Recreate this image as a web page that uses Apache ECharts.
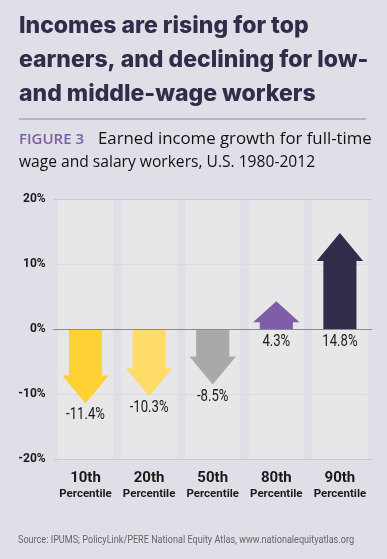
<!DOCTYPE html>
<html>
<head>
<meta charset="utf-8">
<script src="https://cdn.jsdelivr.net/npm/echarts@6/dist/echarts.min.js"></script>
<style>
html,body{margin:0;padding:0;background:#dfdfe7;}
#chart{width:387px;height:559px;}
</style>
</head>
<body>
<div id="chart"></div>
<script>
const categories = ['10th', '20th', '50th', '80th', '90th'];
const growth = [-11.4, -10.3, -8.5, 4.3, 14.8];
const arrowColors = ['#fed235', '#ffdc69', '#a9a9a9', '#7e5ea8', '#2f2d49'];
const yTicks = [-20, -10, 0, 10, 20];

const narrow = "Roboto, 'Noto Sans', sans-serif";
const subFont = "'Open Sans', sans-serif";
const yMin = yTicks[0], yMax = yTicks[yTicks.length - 1];

const chart = echarts.init(document.getElementById('chart'), null, {renderer: 'canvas'});

const option = {
  backgroundColor: '#dfdfe7',
  animation: false,
  graphic: [
    {type: 'text', left: 19, top: 9, style: {
      text: 'Incomes are rising for top\nearners, and declining for low-\nand middle-wage workers',
      font: "800 23px Inter, 'Noto Sans', sans-serif", fill: '#2f2d4a', lineHeight: 34}},
    {type: 'line', shape: {x1: 19, y1: 119, x2: 366, y2: 119}, style: {stroke: '#8c8c94', lineWidth: 1}},
    {type: 'text', left: 19, top: 128, style: {
      text: 'FIGURE 3', font: "600 15px " + subFont, fill: '#7b5ea7', lineHeight: 23}},
    {type: 'text', x: 98, y: 128, scaleX: 1.05, style: {
      text: 'Earned income growth for full-time', font: "16px " + subFont, fill: '#111', lineHeight: 23}},
    {type: 'text', x: 19, y: 151, scaleX: 0.975, style: {
      text: 'wage and salary workers, U.S. 1980-2012', font: "16px " + subFont, fill: '#111', lineHeight: 23}},
    {type: 'text', x: 18, y: 535, scaleX: 0.91, style: {
      text: 'Source: IPUMS; PolicyLink/PERE National Equity Atlas, www.nationalequityatlas.org',
      font: "10px " + narrow, fill: '#666'}}
  ],
  grid: {left: 53.7, right: 15.3, top: 199.3, bottom: 99.7},
  xAxis: {
    type: 'category', data: categories, z: 4,
    axisLine: {onZero: true, lineStyle: {color: '#8a8a8a', width: 1}},
    axisTick: {show: false},
    axisLabel: {
      margin: 10, interval: 0,
      formatter: v => '{a|' + v + '}\n{b|Percentile}',
      rich: {
        a: {fontFamily: narrow, fontSize: 15, fontWeight: 'bold', color: '#1a1a1a', lineHeight: 17},
        b: {fontFamily: narrow, fontSize: 11.5, fontWeight: 'bold', color: '#1a1a1a', lineHeight: 15}
      }
    }
  },
  yAxis: {
    type: 'value', min: yMin, max: yMax, interval: 10, z: 2,
    axisLine: {show: false}, axisTick: {show: false},
    axisLabel: {margin: 8, formatter: v => v + '%', fontFamily: narrow, fontSize: 12, fontWeight: 'bold', color: '#1a1a1a'},
    splitLine: {lineStyle: {color: ['#c9c9cf', '#dadadf', '#8a8a8a', '#dadadf', '#c9c9cf'], width: 1}}
  },
  series: [
    {
      type: 'custom', z: 1, silent: true,
      data: categories.map((c, i) => [i]),
      renderItem: (params, api) => {
        const i = api.value(0);
        const top = api.coord([i, yMax]);
        const bot = api.coord([i, yMin]);
        const w = api.size([1, 0])[0] * 0.87;
        return {type: 'rect', shape: {x: top[0] - w / 2, y: top[1], width: w, height: bot[1] - top[1]},
          style: {fill: '#e7e7ea'}};
      }
    },
    {
      type: 'custom', z: 3,
      data: growth.map((v, i) => [i, v]),
      renderItem: (params, api) => {
        const i = api.value(0), v = api.value(1);
        const base = api.coord([i, 0]);
        const tip = api.coord([i, v]);
        const band = api.size([1, 0])[0];
        const sw = band * 0.52 / 2, hw = band * 0.73 / 2;
        const len = Math.abs(tip[1] - base[1]);
        const head = Math.min(28, len * 0.75);
        const dir = v >= 0 ? -1 : 1;
        const x = base[0];
        const hy = tip[1] - dir * head;
        const pts = [[x - sw, base[1]], [x - sw, hy], [x - hw, hy], [x, tip[1]], [x + hw, hy], [x + sw, hy], [x + sw, base[1]]];
        const ly = v >= 0 ? base[1] + 13 : tip[1] + 12;
        return {type: 'group', children: [
          {type: 'polygon', shape: {points: pts}, style: {fill: arrowColors[params.dataIndex]}},
          {type: 'text', x: x, y: ly, scaleX: 0.82, style: {text: v.toFixed(1) + '%', font: '16px ' + narrow, fill: '#1a1a1a', align: 'center', verticalAlign: 'middle'}}
        ]};
      }
    }
  ]
};
chart.setOption(option);
</script>
</body>
</html>
